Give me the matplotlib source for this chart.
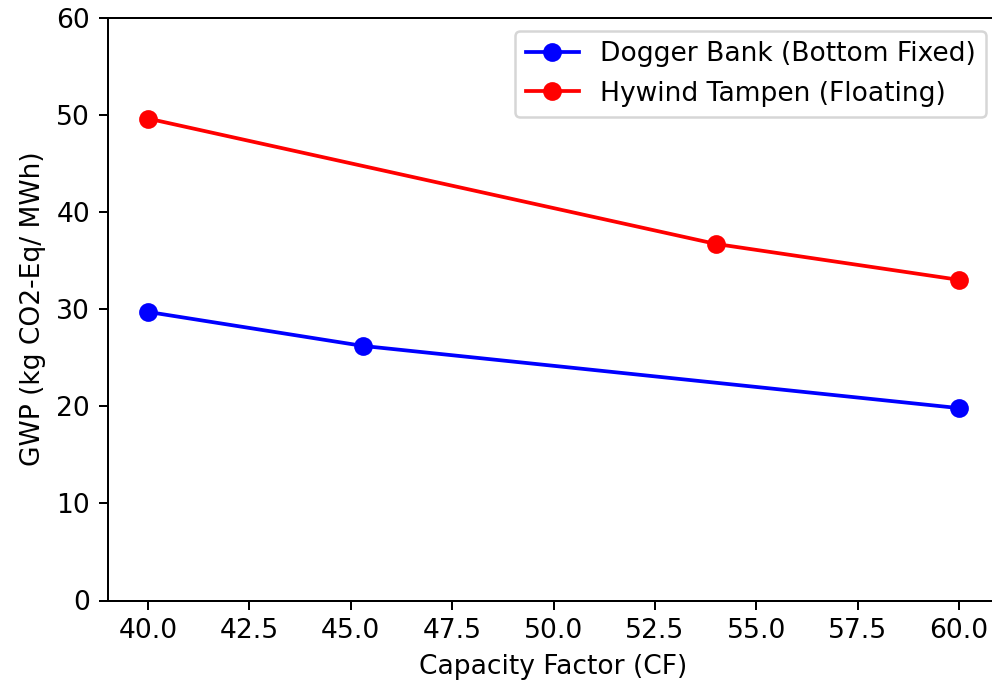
import matplotlib
matplotlib.use("Agg")
import matplotlib.pyplot as plt

# Capacity factor (%) and life-cycle GWP (kg CO2-eq per MWh)
dogger_cf = [40.0, 45.3, 60.0]
dogger_gwp = [29.7, 26.2, 19.8]
hywind_cf = [40.0, 54.0, 60.0]
hywind_gwp = [49.6, 36.7, 33.0]

labels = ["Dogger Bank (Bottom Fixed)", "Hywind Tampen (Floating)"]

plt.rcParams["font.size"] = 10.6

DPI = 180
fig = plt.figure(figsize=(992 / DPI, 686 / DPI), dpi=DPI)
ax = fig.add_axes([107.5 / 992, 1 - 600.5 / 686, 892 / 992, 583 / 686])

ax.plot(dogger_cf, dogger_gwp, "-o", color="blue", label=labels[0], markersize=6.5)
ax.plot(hywind_cf, hywind_gwp, "-o", color="red", label=labels[1], markersize=6.5)

ax.set_xlim(39, 61)
ax.set_ylim(0, 60)
ax.set_xlabel("Capacity Factor (CF)")
ax.set_ylabel("GWP (kg CO2-Eq/ MWh)")
ax.legend(loc="upper right")

fig.savefig("out.png", dpi=DPI)
